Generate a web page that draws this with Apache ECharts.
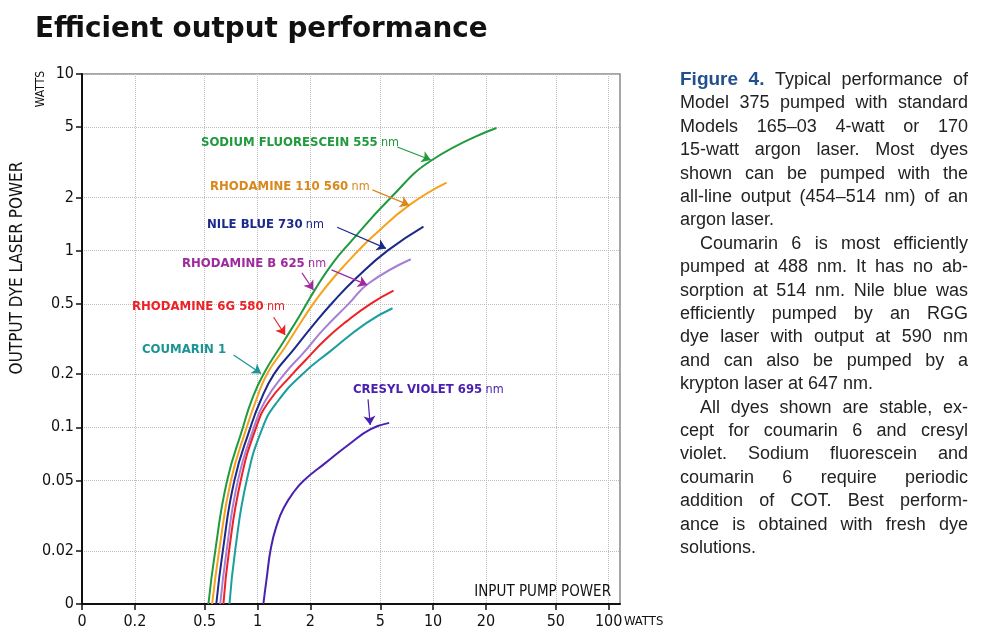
<!DOCTYPE html>
<html><head><meta charset="utf-8">
<script src="https://cdn.jsdelivr.net/npm/echarts@6/dist/echarts.min.js"></script>
<style>html,body{margin:0;padding:0;background:#fff}#c{width:990px;height:643px}</style>
</head><body><div id="c"></div>
<script>
// ---------- data ----------
const xTicks = [0.1, 0.2, 0.5, 1, 2, 5, 10, 20, 50, 100];
const xTickLabels = ['0', '0.2', '0.5', '1', '2', '5', '10', '20', '50', '100'];
const yTicks = [0.01, 0.02, 0.05, 0.1, 0.2, 0.5, 1, 2, 5, 10];
const yTickLabels = ['0', '0.02', '0.05', '0.1', '0.2', '0.5', '1', '2', '5', '10'];

const dyeNames = ['SODIUM FLUORESCEIN 555', 'RHODAMINE 110 560', 'NILE BLUE 730', 'RHODAMINE B 625', 'RHODAMINE 6G 580', 'COUMARIN 1', 'CRESYL VIOLET 695'];
const dyeUnit = ['nm', 'nm', 'nm', 'nm', 'nm', '', 'nm'];

// [input pump power W, output dye laser power W]
const sodiumFluorescein = [[0.525,0.01],[0.574,0.02],[0.671,0.05],[0.826,0.1],[0.92,0.14],[1.08,0.2],[1.42,0.31],[1.74,0.43],[2.12,0.6],[2.68,0.85],[3.33,1.1],[5.75,2],[9.86,3.26],[22.96,4.95]];
const rhodamine110 = [[0.551,0.01],[0.604,0.02],[0.705,0.05],[0.867,0.1],[0.975,0.14],[1.13,0.2],[1.44,0.286],[1.8,0.405],[2.22,0.549],[2.85,0.745],[3.75,1.0],[4.51,1.2],[7.31,1.81],[11.93,2.43]];
const nileBlue = [[0.582,0.01],[0.634,0.02],[0.738,0.05],[0.911,0.1],[1.035,0.14],[1.24,0.2],[1.6,0.274],[2.08,0.38],[2.7,0.514],[3.65,0.7],[5.5,1.0],[8.81,1.37]];
const rhodamineB = [[0.613,0.01],[0.666,0.02],[0.773,0.05],[0.954,0.1],[1.1,0.14],[1.42,0.2],[1.82,0.263],[2.36,0.356],[3.3,0.5],[4.3,0.654],[7.46,0.894]];
const rhodamine6G = [[0.639,0.01],[0.688,0.02],[0.802,0.05],[0.982,0.1],[1.16,0.14],[1.58,0.2],[1.88,0.2406],[2.42,0.3124],[3.2,0.3965],[4.4,0.5],[5.95,0.594]];
const coumarin1 = [[0.692,0.01],[0.745,0.02],[0.867,0.05],[1.07,0.1],[1.3,0.14],[1.8,0.2],[2.6,0.27],[4.14,0.388],[5.87,0.472]];
const cresylViolet = [[1.079,0.01],[1.124,0.0137],[1.195,0.0211],[1.297,0.0286],[1.406,0.0348],[1.59,0.0424],[1.835,0.05],[2.43,0.0627],[3.31,0.08],[4.41,0.0976],[5.62,0.106]];
const dyeData = [sodiumFluorescein, rhodamine110, nileBlue, rhodamineB, rhodamine6G, coumarin1, cresylViolet];

// annotation arrows (from, to) in data units
const dyeArrows = [
  [[[6.25,3.86],[9.7,3.26]]],
  [[[4.51,2.21],[7.31,1.81]]],
  [[[2.84,1.356],[5.39,1.03]]],
  [[[1.79,0.748],[2.08,0.599]], [[2.64,0.778],[4.21,0.64]]],
  [[[1.235,0.42],[1.436,0.333]]],
  [[[0.73,0.257],[1.048,0.202]]],
  [[[4.26,0.144],[4.38,0.103]]]
];

const paragraphLines = [
  ['Figure 4.|Typical performance of', 1, 0],
  ['Model 375 pumped with standard', 1, 0],
  ['Models 165\u201303 4-watt or 170', 1, 0],
  ['15-watt argon laser. Most dyes', 1, 0],
  ['shown can be pumped with the', 1, 0],
  ['all-line output (454\u2013514 nm) of an', 1, 0],
  ['argon laser.', 0, 0],
  ['Coumarin 6 is most efficiently', 1, 1],
  ['pumped at 488 nm. It has no ab-', 1, 0],
  ['sorption at 514 nm. Nile blue was', 1, 0],
  ['efficiently pumped by an RGG', 1, 0],
  ['dye laser with output at 590 nm', 1, 0],
  ['and can also be pumped by a', 1, 0],
  ['krypton laser at 647 nm.', 0, 0],
  ['All dyes shown are stable, ex-', 1, 1],
  ['cept for coumarin 6 and cresyl', 1, 0],
  ['violet. Sodium fluorescein and', 1, 0],
  ['coumarin 6 require periodic', 1, 0],
  ['addition of COT. Best perform-', 1, 0],
  ['ance is obtained with fresh dye', 1, 0],
  ['solutions.', 0, 0]
];

// ---------- styles ----------
const lineColors = ['#1f9a3d', '#f8a11c', '#1b2a8a', '#a67fd4', '#ec2227', '#1a9e9e', '#4a20b0'];
const textColors = ['#1f9a3d', '#d8881c', '#1b2a8a', '#9e2a9e', '#ec2227', '#1a9494', '#4a20b0'];
const labelPos = [[201,143],[210,187],[207,225],[182,264],[132,307],[142,350],[353,390]];
const NARROW = "'Liberation Sans Narrow','DejaVu Sans Condensed','Roboto Condensed',Roboto,sans-serif";
const BODY = "'Liberation Sans', Arial, sans-serif";

const chart = echarts.init(document.getElementById('c'), null, {renderer: 'canvas'});

function fmt(ticks, labels) {
  return function (v) {
    for (let i = 0; i < ticks.length; i++) {
      if (Math.abs(Math.log10(v) - Math.log10(ticks[i])) < 1e-6) return labels[i];
    }
    return '';
  };
}

const series = dyeData.map((d, i) => ({
  type: 'line',
  name: dyeNames[i],
  data: d,
  showSymbol: false,
  smooth: 0.5,
  lineStyle: {width: 2, color: lineColors[i]},
  itemStyle: {color: lineColors[i]},
  z: 3,
  markLine: {
    silent: true,
    animation: false,
    symbol: ['none', 'arrow'],
    symbolSize: 9,
    lineStyle: {color: textColors[i], width: 1.2, type: 'solid'},
    itemStyle: {color: textColors[i]},
    label: {show: false},
    emphasis: {disabled: true},
    data: dyeArrows[i].map(a => [{coord: a[0]}, {coord: a[1]}])
  }
}));

// ---------- graphics ----------
const graphics = [];
graphics.push({type: 'text', left: 35, top: 16, style: {text: 'Efficient output performance', font: "bold 27.8px 'DejaVu Sans', Verdana, sans-serif", fill: '#111'}});
graphics.push({type: 'text', x: 18, y: 268, rotation: Math.PI / 2, style: {text: 'OUTPUT DYE LASER POWER', font: '17px ' + NARROW, fill: '#111', textAlign: 'center', textVerticalAlign: 'middle'}});
graphics.push({type: 'text', x: 41, y: 89, rotation: Math.PI / 2, style: {text: 'WATTS', font: '12px ' + NARROW, fill: '#111', textAlign: 'center', textVerticalAlign: 'middle'}});
graphics.push({type: 'text', x: 611, y: 592, style: {text: 'INPUT PUMP POWER', font: '15px ' + NARROW, fill: '#111', textAlign: 'right', textVerticalAlign: 'middle'}, z: 10});
graphics.push({type: 'text', x: 624, y: 622, style: {text: 'WATTS', font: '13px ' + NARROW, fill: '#111', textAlign: 'left', textVerticalAlign: 'middle'}});

dyeNames.forEach((n, i) => {
  const txt = dyeUnit[i] ? '{a|' + n + '} {b|' + dyeUnit[i] + '}' : '{a|' + n + '}';
  graphics.push({type: 'text', x: labelPos[i][0], y: labelPos[i][1], z: 10, style: {
    text: txt, textVerticalAlign: 'middle', textAlign: 'left',
    rich: {
      a: {font: 'bold 13px ' + NARROW, fill: textColors[i], color: textColors[i]},
      b: {font: '12.5px ' + NARROW, fill: textColors[i], color: textColors[i]}
    }
  }});
});

// justified paragraph text
const ctx = document.createElement('canvas').getContext('2d');
const bodyFont = '18px ' + BODY;
const boldFont = 'bold 19px ' + BODY;
function mw(s, f) { ctx.font = f; return ctx.measureText(s).width; }
const X0 = 680, X1 = 968, Y0 = 80, LH = 23.4, INDENT = 20;
paragraphLines.forEach((ln, li) => {
  const [raw, justify, indent] = ln;
  let tokens = [];
  const parts = raw.split('|');
  if (parts.length > 1) {
    parts[0].split(' ').forEach(w => tokens.push({s: w, f: boldFont, c: '#22508f'}));
    parts[1].split(' ').forEach(w => tokens.push({s: w, f: bodyFont, c: '#222'}));
  } else {
    raw.split(' ').forEach(w => tokens.push({s: w, f: bodyFont, c: '#222'}));
  }
  const x0 = X0 + (indent ? INDENT : 0);
  const widths = tokens.map(t => mw(t.s, t.f));
  const total = widths.reduce((a, b) => a + b, 0);
  const gap = justify && tokens.length > 1 ? (X1 - x0 - total) / (tokens.length - 1) : mw(' ', bodyFont);
  let x = x0;
  const y = Y0 + li * LH;
  tokens.forEach((t, k) => {
    graphics.push({type: 'text', x: x, y: y, style: {text: t.s, font: t.f, fill: t.c, textAlign: 'left', textVerticalAlign: 'middle'}});
    x += widths[k] + gap;
  });
});

chart.setOption({
  animation: false,
  backgroundColor: '#fff',
  grid: {left: 82, right: 370, top: 74, bottom: 39, show: true, borderColor: '#8a8a8a', borderWidth: 1.5, backgroundColor: 'transparent'},
  xAxis: {
    type: 'log', logBase: 10, min: 0.1, max: 116,
    axisLine: {show: true, lineStyle: {color: '#111', width: 2}},
    axisTick: {show: true, length: 6, lineStyle: {color: '#111', width: 1.5}, customValues: xTicks},
    axisLabel: {show: true, customValues: xTicks, formatter: fmt(xTicks, xTickLabels), margin: 10, fontFamily: NARROW, fontSize: 16, color: '#111'},
    splitLine: {show: true, lineStyle: {color: '#bdbdbd', type: 'dotted', width: 1}},
    minorTick: {show: false}, minorSplitLine: {show: false}
  },
  yAxis: {
    type: 'log', logBase: 10, min: 0.01, max: 10,
    axisLine: {show: true, lineStyle: {color: '#111', width: 2}},
    axisTick: {show: true, length: 6, lineStyle: {color: '#111', width: 1.5}, customValues: yTicks},
    axisLabel: {show: true, customValues: yTicks, formatter: fmt(yTicks, yTickLabels), margin: 8, fontFamily: NARROW, fontSize: 16, color: '#111'},
    splitLine: {show: true, lineStyle: {color: '#bdbdbd', type: 'dotted', width: 1}}
  },
  series: series,
  graphic: graphics
});
</script></body></html>
